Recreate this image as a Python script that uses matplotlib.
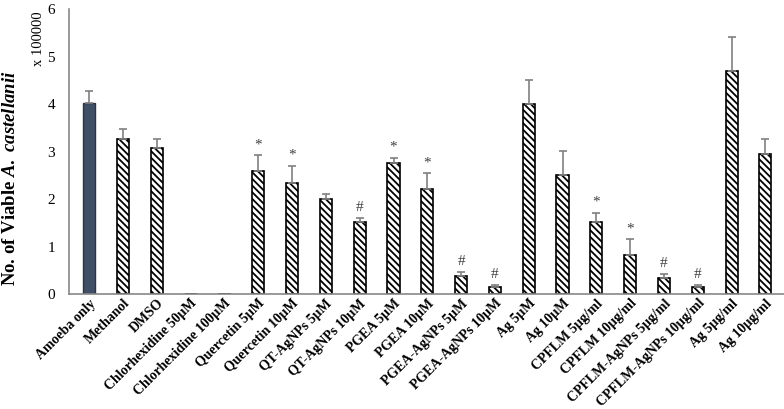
import matplotlib
matplotlib.use('Agg')
import matplotlib.pyplot as plt
import numpy as np

# tick labels along x
categories = ['Amoeba only', 'Methanol', 'DMSO', 'Chlorhexidine 50µM', 'Chlorhexidine 100µM',
              'Quercetin 5µM', 'Quercetin 10µM', 'QT-AgNPs 5µM', 'QT-AgNPs 10µM',
              'PGEA 5µM', 'PGEA 10µM', 'PGEA-AgNPs 5µM', 'PGEA-AgNPs 10µM',
              'Ag 5µM', 'Ag 10µM', 'CPFLM 5µg/ml', 'CPFLM 10µg/ml',
              'CPFLM-AgNPs 5µg/ml', 'CPFLM-AgNPs 10µg/ml', 'Ag 5µg/ml', 'Ag 10µg/ml']
# viable amoebae (x 100000)
values = [4.02, 3.27, 3.08, 0.0, 0.0, 2.58, 2.33, 2.01, 1.51, 2.76, 2.21, 0.38, 0.14,
          4.01, 2.51, 1.51, 0.82, 0.33, 0.14, 4.70, 2.95]
# upper error (SD)
errors = [0.25, 0.20, 0.19, 0.0, 0.0, 0.34, 0.37, 0.10, 0.10, 0.11, 0.33, 0.08, 0.06,
          0.50, 0.50, 0.20, 0.33, 0.10, 0.06, 0.71, 0.32]
# significance marks
marks = ['', '', '', '', '', '*', '*', '', '#', '*', '*', '#', '#',
         '', '', '*', '*', '#', '#', '', '']

plt.rcParams['font.family'] = 'Liberation Serif'
plt.rcParams['mathtext.fontset'] = 'custom'
plt.rcParams['mathtext.rm'] = 'Liberation Serif:bold'
plt.rcParams['mathtext.it'] = 'Liberation Serif:bold:italic'
plt.rcParams['hatch.linewidth'] = 1.3

fig = plt.figure(figsize=(7.84, 4.09), dpi=100)
ax = fig.add_axes([0.088, 0.281, 0.912, 0.697])

x = np.arange(len(categories))
width = 0.36
for i in range(len(x)):
    if i == 0:
        ax.bar(x[i], values[i], width, color='#3f4f66', edgecolor='#2b3544', linewidth=1)
    else:
        ax.bar(x[i], values[i], width, color='white', edgecolor='black', linewidth=1.2,
               hatch='\\\\\\\\\\')

nz = [i for i in range(len(x)) if values[i] > 0]
ax.errorbar([x[i] for i in nz], [values[i] for i in nz],
            yerr=[[0] * len(nz), [errors[i] for i in nz]],
            fmt='none', ecolor='#808080', elinewidth=1.2, capsize=3, capthick=1.2)

for i in range(len(x)):
    if marks[i]:
        ax.text(x[i], values[i] + errors[i] + 0.08, marks[i], ha='center', va='bottom',
                fontsize=11, color='#404040')

ax.set_xlim(-0.6, len(x) - 0.45)
ax.set_ylim(0, 6)
ax.set_yticks(range(7))
ax.tick_params(axis='y', length=0, labelsize=11, pad=10)
ax.tick_params(axis='x', length=0, pad=2)
ax.set_xticks(x)
ax.set_xticklabels(categories, rotation=45, ha='right', rotation_mode='anchor',
                   fontsize=10, fontweight='bold')

for s in ['top', 'right']:
    ax.spines[s].set_visible(False)
for s in ['left', 'bottom']:
    ax.spines[s].set_color('#888888')
    ax.spines[s].set_linewidth(1.2)

fig.text(0.014, 0.565, 'No. of Viable $A.\\ castellanii$', rotation=90, ha='center', va='center',
         fontsize=13.5, fontweight='bold')
fig.text(0.049, 0.905, 'x 100000', rotation=90, ha='center', va='center', fontsize=10.5)

fig.savefig('out.png', dpi=100)
